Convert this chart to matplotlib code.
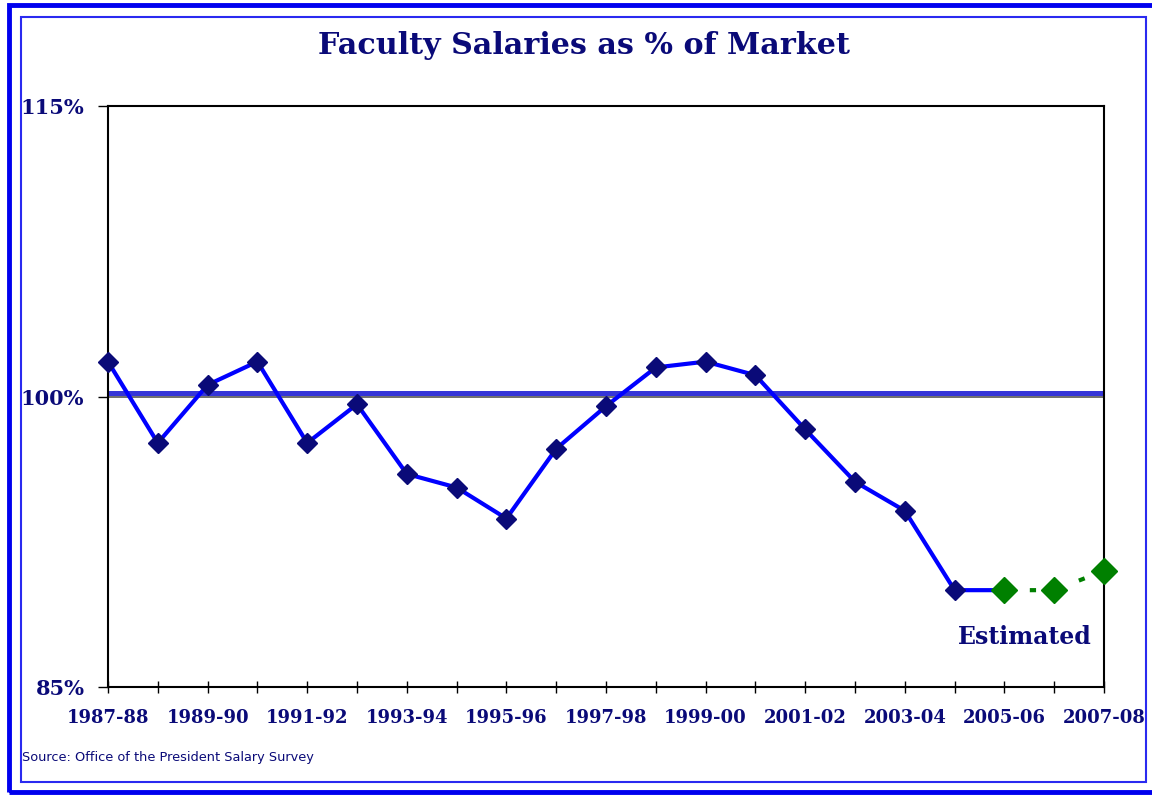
import matplotlib
matplotlib.use("Agg")
import matplotlib.pyplot as plt
from matplotlib.patches import Rectangle

years = ["1987-88", "1988-89", "1989-90", "1990-91", "1991-92", "1992-93",
         "1993-94", "1994-95", "1995-96", "1996-97", "1997-98", "1998-99",
         "1999-00", "2000-01", "2001-02", "2002-03", "2003-04", "2004-05",
         "2005-06", "2006-07", "2007-08"]
actual = [101.8, 97.6, 100.6, 101.8, 97.6, 99.6, 96.0, 95.3, 93.7, 97.3,
          99.5, 101.5, 101.8, 101.1, 98.3, 95.6, 94.1, 90.0, 90.0]
estimated = [90.0, 90.0, 91.0]
market = 100.18

NAVY = "#0a0a78"
FONT = "DejaVu Serif"

fig = plt.figure(figsize=(11.52, 7.95), dpi=100)
ax = fig.add_axes([108 / 1152, 1 - 687 / 795, 996 / 1152, 581 / 795])

x = list(range(len(years)))
n_act = len(actual)
ax.axhline(100, color="#555555", lw=1.2, zorder=1)
ax.axhline(market, color="#3535d8", lw=3.6, zorder=2)
ax.plot(x[:n_act], actual, color="#0000ff", lw=3, zorder=3)
ax.plot(x[:n_act - 1], actual[:-1], ls="none", marker="D", ms=10,
        color=NAVY, zorder=4, clip_on=False)
ax.plot(x[n_act - 1:], estimated, color="#008000", lw=3,
        dashes=(1.5, 4.6), zorder=3, clip_on=False)
ax.plot(x[n_act - 1:], estimated, ls="none", marker="D", ms=13,
        color="#008000", zorder=4, clip_on=False)

ax.set_xlim(0, len(years) - 1)
ax.set_ylim(85, 115)
ax.set_yticks([85, 100, 115])
ax.set_yticklabels(["85%", "100%", "115%"])
ax.set_xticks(x)
ax.set_xticklabels([y if i % 2 == 0 else "" for i, y in enumerate(years)])
ax.tick_params(axis="x", direction="inout", length=8, width=1, pad=12,
               labelsize=13, labelcolor=NAVY)
ax.tick_params(axis="y", direction="out", length=7, width=1, pad=10,
               labelsize=15, labelcolor=NAVY)
for lab in ax.get_xticklabels() + ax.get_yticklabels():
    lab.set_fontfamily(FONT)
    lab.set_fontweight("bold")
for s in ax.spines.values():
    s.set_linewidth(1.5)
    s.set_color("black")

ax.text(len(years) - 1.25, 87.6, "Estimated", ha="right", va="center",
        fontsize=17, fontweight="bold", family=FONT, color=NAVY)

fig.text(584 / 1152, 1 - 46 / 795, "Faculty Salaries as % of Market",
         ha="center", va="center", fontsize=21.7, fontweight="bold",
         family=FONT, color=NAVY)
fig.text(22 / 1152, 1 - 758 / 795, "Source: Office of the President Salary Survey",
         ha="left", va="center", fontsize=9.3, family="DejaVu Sans", color=NAVY)

# double blue frame around the chart
fig.add_artist(Rectangle((8.5 / 1152, 1 - 792 / 795), 1.2, (792 - 4.5) / 795,
                         transform=fig.transFigure, fill=False,
                         ec="#0000ee", lw=3.5))
fig.add_artist(Rectangle((20.5 / 1152, 1 - 782 / 795), (1146 - 20.5) / 1152,
                         (782 - 16.5) / 795, transform=fig.transFigure,
                         fill=False, ec="#2a2af0", lw=1.5))

fig.savefig("out.png", dpi=100)
